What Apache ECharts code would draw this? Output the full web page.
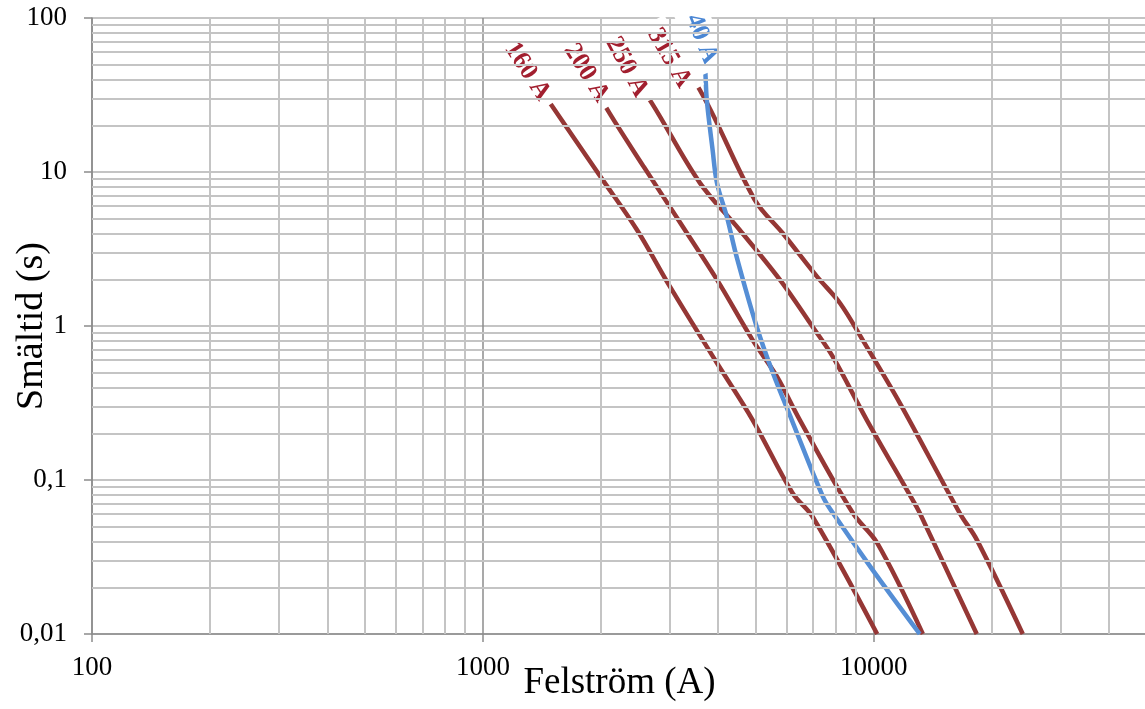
<!DOCTYPE html>
<html><head><meta charset="utf-8">
<script src="https://cdn.jsdelivr.net/npm/echarts@6/dist/echarts.min.js"></script>
<style>html,body{margin:0;padding:0;background:#fff}#c{width:1145px;height:709px}</style>
</head><body><div id="c"></div>
<script>
// ---- data: [current (A), melting time (s)] ----
const fuse160 = [[1300,45],[1500,27],[2000,9.3],[2480,4.2],[3010,1.8],[3970,0.575],[4900,0.245],[6200,0.082],[6980,0.0575],[10200,0.01]];
const fuse200 = [[1840,44],[2110,24],[2580,10.8],[3250,4.4],[3970,2.0],[4900,0.81],[5650,0.47],[6470,0.245],[8840,0.061],[10200,0.039],[13350,0.01]];
const fuse250 = [[2335,48],[2705,28],[3590,8.5],[4540,4.2],[5750,2.0],[6980,0.985],[7860,0.63],[9600,0.245],[12580,0.074],[13110,0.061],[18340,0.01]];
const fuse315 = [[3000,55],[3530,36.7],[4960,6.6],[5850,4.0],[7150,2.1],[8190,1.41],[9370,0.81],[11660,0.316],[16590,0.061],[18340,0.041],[24050,0.01]];
const fuse40 = [[3630,73],[3700,48],[3740,29.3],[3870,13.9],[3970,8.5],[4210,5.1],[4460,2.8],[5020,0.985],[5520,0.495],[6170,0.245],[7410,0.078],[7860,0.061],[9940,0.026],[13110,0.01]];
const seriesNames = ['160 A','200 A','250 A','315 A','40 A'];
const xTickValues = [100,1000,10000];
const xMinorGrid = [200,300,400,500,600,700,800,900,2000,3000,4000,5000,6000,7000,8000,9000,20000,30000,40000];
const yMinorGrid = [0.02,0.03,0.04,0.05,0.06,0.07,0.08,0.09,0.2,0.3,0.4,0.5,0.6,0.7,0.8,0.9,2,3,4,5,6,7,8,9,20,30,40,50,60,70,80,90];

const RED = '#953735', BLUE = '#558ed5';
const LABEL_RED = '#a21f2f', LABEL_BLUE = '#4a86d4';
const serif = 'Liberation Serif';

function curve(name, data, color, labelColor, rot) {
  return {
    type: 'line', name: name, z: 3,
    smooth: 0.35, symbol: 'circle', symbolSize: 0, showSymbol: true, showAllSymbol: true,
    lineStyle: { width: 4.5, color: color },
    itemStyle: { color: color },
    emphasis: { disabled: true },
    label: { show: false },
    data: data.map((d, i) => i === 0 ? {
      value: d,
      label: {
        show: true, position: 'inside', formatter: name, rotate: rot,
        fontFamily: serif, fontWeight: 'bold', fontSize: 26, color: labelColor,
        backgroundColor: '#ffffff', padding: [4, 8]
      }
    } : { value: d })
  };
}

const gridStyle = { color: '#c4c4c4', width: 2, type: 'solid' };
const chart = echarts.init(document.getElementById('c'), null, { renderer: 'canvas' });
chart.setOption({
  animation: false,
  backgroundColor: '#ffffff',
  grid: { left: 92, top: 18, width: 1055, height: 616, containLabel: false, outerBoundsMode: 'none' },
  xAxis: {
    type: 'log', logBase: 10, min: 100, max: 50000,
    axisLine: { show: true, lineStyle: { color: '#8c8c8c', width: 1.5 } },
    axisTick: { show: true, length: 8, lineStyle: { color: '#8c8c8c', width: 1.5 } },
    axisLabel: {
      fontFamily: serif, fontSize: 27, color: '#000', margin: 20, showMaxLabel: false,
      formatter: v => xTickValues.some(t => Math.abs(t - v) / t < 1e-6) ? String(Math.round(v)) : ''
    },
    splitLine: { show: true, lineStyle: { color: '#8c8c8c', width: 1.5 } },
    name: 'Felström (A)', nameLocation: 'middle', nameGap: 31, nameMoveOverlap: false,
    nameTextStyle: { fontFamily: serif, fontSize: 37, color: '#000' }
  },
  yAxis: {
    type: 'log', logBase: 10, min: 0.01, max: 100,
    axisLine: { show: true, lineStyle: { color: '#8c8c8c', width: 1.5 } },
    axisTick: { show: true, length: 8, lineStyle: { color: '#8c8c8c', width: 1.5 } },
    axisLabel: {
      fontFamily: serif, fontSize: 27, color: '#000', margin: 25,
      formatter: v => String(Number(v.toPrecision(6))).replace('.', ',')
    },
    splitLine: { show: true, lineStyle: gridStyle },
    name: 'Smältid (s)', nameLocation: 'middle', nameGap: 41, nameRotate: 90, nameMoveOverlap: false,
    nameTextStyle: { fontFamily: serif, fontSize: 38, color: '#000' }
  },
  series: [
    {
      type: 'line', name: 'grid', z: 1, silent: true, data: [],
      markLine: {
        silent: true, symbol: ['none', 'none'], animation: false,
        label: { show: false }, emphasis: { disabled: true },
        lineStyle: gridStyle,
        data: xMinorGrid.map(v => ({ xAxis: v })).concat(yMinorGrid.map(v => ({ yAxis: v })))
      }
    },
    curve(seriesNames[0], fuse160, RED, LABEL_RED, -57),
    curve(seriesNames[1], fuse200, RED, LABEL_RED, -58),
    curve(seriesNames[2], fuse250, RED, LABEL_RED, -62),
    curve(seriesNames[3], fuse315, RED, LABEL_RED, -60),
    curve(seriesNames[4], fuse40, BLUE, LABEL_BLUE, -68)
  ]
});
</script></body></html>
